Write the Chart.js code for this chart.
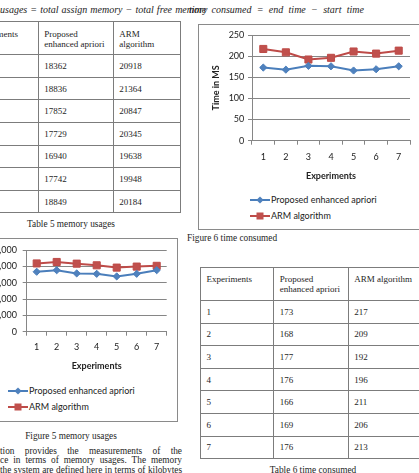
<!DOCTYPE html>
<html>
<head>
<meta charset="utf-8">
<script src="https://cdn.jsdelivr.net/npm/chart.js@4"></script>
<style>
  body { margin: 0; width: 419px; height: 473px; overflow: hidden; position: relative; background: #fff; color: #1e1e1e; font-family: "Liberation Serif", serif; }
  .abs { position: absolute; white-space: nowrap; }
  .eq { font-style: italic; font-size: 10px; line-height: 12px; }
  .cap { font-size: 9.3px; line-height: 11px; text-align: center; }
  .para { font-size: 9.3px; line-height: 11px; text-align: justify; text-align-last: justify; width: 182px; }
  table { position: absolute; border-collapse: collapse; table-layout: fixed; font-size: 9px; line-height: 10px; }
  td { border: 1px solid #7c7c7c; padding: 0 0 0 5.5px; vertical-align: middle; white-space: nowrap; overflow: hidden; }
  tr { height: 22.6px; }
  tr.head { height: 33.3px; }
  tr.head td { vertical-align: top; padding-top: 6.5px; }
  .box { position: absolute; border: 1px solid #8a8a8a; }
  canvas { position: absolute; }
  .legend { position: absolute; font-family: Lato, sans-serif; font-size: 9px; color: #222; }
  .legend div { position: absolute; left: 0; height: 12px; line-height: 12px; white-space: nowrap; }
  .legend svg { vertical-align: top; }
</style>
</head>
<body>

<div class="abs eq" style="left:0;top:4px;word-spacing:0.6px">usages = total assign memory − total free memory</div>
<div class="abs eq" style="left:189px;top:4px;word-spacing:2.8px">time consumed = end time − start time</div>

<table id="t5" style="left:-34px;top:21px;width:214px">
  <colgroup><col style="width:71.7px"><col style="width:75px"><col style="width:67.6px"></colgroup>
  <tbody></tbody>
</table>
<div class="abs cap" style="left:0;width:142px;top:218.5px">Table 5 memory usages</div>

<div class="box" style="left:198px;top:24px;width:240px;height:204px"></div>
<canvas id="c6" width="225" height="156" style="left:199px;top:25px"></canvas>
<div class="legend" id="l6" style="left:250px;top:0"></div>
<div class="abs cap" style="left:187px;top:233px;text-align:left">Figure 6 time consumed</div>

<div class="box" style="left:-10px;top:238px;width:186px;height:182px"></div>
<canvas id="c5" width="216" height="132" style="left:-40px;top:239px"></canvas>
<div class="legend" id="l5" style="left:8px;top:0"></div>
<div class="abs cap" style="left:0;width:142px;top:430.5px">Figure 5 memory usages</div>

<div class="abs para" style="left:0;top:445.5px">tion provides the measurements of the</div>
<div class="abs para" style="left:0;top:455.2px">ce in terms of memory usages. The memory</div>
<div class="abs para" style="left:0;top:465px">the system are defined here in terms of kilobytes</div>

<table id="t6" style="left:200px;top:266.7px;width:228px">
  <colgroup><col style="width:73.3px"><col style="width:74.4px"><col style="width:80px"></colgroup>
  <tbody></tbody>
</table>
<div class="abs cap" style="left:243px;width:140px;top:464.5px">Table 6 time consumed</div>

<script>
const experiments = ['1', '2', '3', '4', '5', '6', '7'];
const seriesNames = ['Proposed enhanced apriori', 'ARM algorithm'];
const memProposed = [18362, 18836, 17852, 17729, 16940, 17742, 18849];
const memArm = [20918, 21364, 20847, 20345, 19638, 19948, 20184];
const timeProposed = [173, 168, 177, 176, 166, 169, 176];
const timeArm = [217, 209, 192, 196, 211, 206, 213];
const memTicks = [0, 5000, 10000, 15000, 20000, 25000];
const timeTicks = [0, 50, 100, 150, 200, 250];

const BLUE = '#4a7ebb', BLUE_MARK = '#4f81bd';
const RED = '#be4b48', RED_MARK = '#c0504d';
const GRID = '#868686';
const CHART_FONT = 'Lato, "Noto Sans", sans-serif';

function fillTable(id, heads, a, b) {
  let html = '<tr class="head">' + heads.map(h => '<td>' + h + '</td>').join('') + '</tr>';
  experiments.forEach((e, i) => {
    html += '<tr><td>' + e + '</td><td>' + a[i] + '</td><td>' + b[i] + '</td></tr>';
  });
  document.querySelector('#' + id + ' tbody').innerHTML = html;
}

fillTable('t5', ['Experiments', 'Proposed<br>enhanced apriori', 'ARM<br>algorithm'], memProposed, memArm);
fillTable('t6', ['Experiments', 'Proposed<br>enhanced apriori', 'ARM algorithm'], timeProposed, timeArm);

function lineChart(id, ticks, yTitle, proposed, arm, fit) {
  return new Chart(document.getElementById(id), {
    type: 'line',
    data: {
      labels: experiments,
      datasets: [
        {
          label: seriesNames[0], data: proposed,
          borderColor: BLUE, borderWidth: 2, tension: 0,
          pointStyle: 'rectRot', pointRadius: 3.6,
          pointBackgroundColor: BLUE_MARK, pointBorderColor: BLUE, pointBorderWidth: 1
        },
        {
          label: seriesNames[1], data: arm,
          borderColor: RED, borderWidth: 2, tension: 0,
          pointStyle: 'rect', pointRadius: 5,
          pointBackgroundColor: RED_MARK, pointBorderColor: RED, pointBorderWidth: 1
        }
      ]
    },
    options: {
      responsive: false,
      animation: false,
      devicePixelRatio: 1,
      layout: { padding: fit.padding },
      plugins: { legend: { display: false }, tooltip: { enabled: false } },
      scales: {
        x: {
          offset: true,
          grid: { offset: true, drawOnChartArea: false, color: GRID, tickLength: 4 },
          border: { color: GRID },
          ticks: { color: '#222', font: { family: CHART_FONT, size: 9 }, padding: fit.xPad, maxRotation: 0, autoSkip: false },
          title: { display: true, text: 'Experiments', color: '#222', padding: 0, font: { family: CHART_FONT, size: 9, weight: 'bold' } },
          afterFit: s => { s.height = fit.xHeight; }
        },
        y: {
          min: ticks[0], max: ticks[ticks.length - 1],
          afterBuildTicks: s => { s.ticks = ticks.map(v => ({ value: v })); },
          grid: { color: GRID, tickLength: 4 },
          border: { color: GRID },
          ticks: { color: '#222', font: { family: CHART_FONT, size: 9 }, padding: fit.yPad },
          title: { display: true, text: yTitle, color: '#222', padding: 0, font: { family: CHART_FONT, size: 9, weight: 'bold' } },
          afterFit: s => { s.width = fit.yWidth; }
        }
      }
    }
  });
}

function legendFor(id, chart, rows) {
  const el = document.getElementById(id);
  chart.data.datasets.forEach((ds, i) => {
    const row = document.createElement('div');
    row.style.top = (rows[i] - 6) + 'px';
    const marker = ds.pointStyle === 'rect'
      ? '<rect x="6.5" y="2.5" width="7" height="7" fill="' + ds.pointBackgroundColor + '"/>'
      : '<polygon points="10,2.4 13.6,6 10,9.6 6.4,6" fill="' + ds.pointBackgroundColor + '"/>';
    row.innerHTML = '<svg width="20" height="12"><line x1="0" y1="6" x2="20" y2="6" stroke="' + ds.borderColor + '" stroke-width="2"/>' +
      marker + '</svg><span style="margin-left:1px">' + ds.label + '</span>';
    el.appendChild(row);
  });
}

const chart6 = lineChart('c6', timeTicks, 'Time in MS', timeProposed, timeArm,
  { padding: { left: 12, top: 10, right: 14, bottom: 0 }, yWidth: 41, xHeight: 40.3, xPad: 7, yPad: 3.7 });
const chart5 = lineChart('c5', memTicks, 'Memory in KB', memProposed, memArm,
  { padding: { left: 12, top: 10, right: 9.3, bottom: 0 }, yWidth: 54.7, xHeight: 39.3, xPad: 5.6, yPad: 5.7 });

legendFor('l6', chart6, [199.7, 216]);
legendFor('l5', chart5, [390.7, 407]);
</script>
</body>
</html>
